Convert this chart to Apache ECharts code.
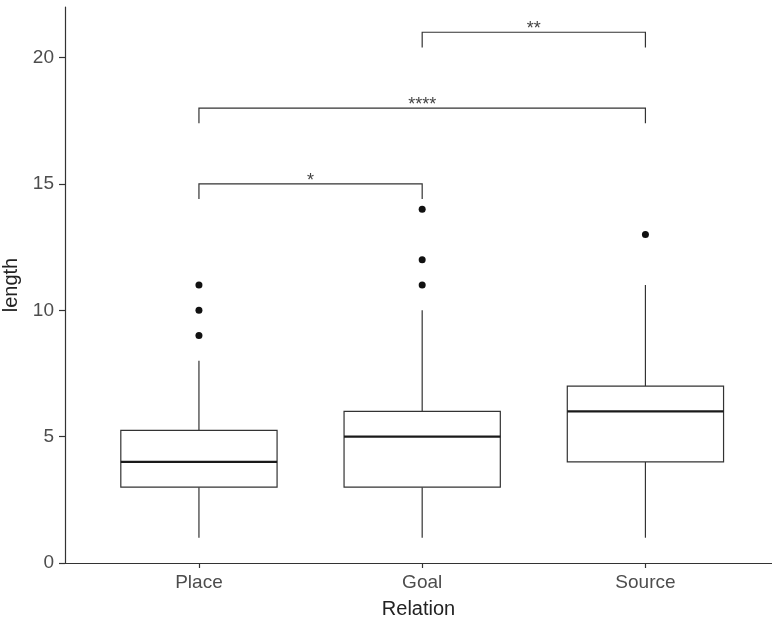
<!DOCTYPE html>
<html>
<head>
<meta charset="utf-8">
<script src="https://cdn.jsdelivr.net/npm/echarts@6/dist/echarts.min.js"></script>
<style>
  html, body { margin: 0; padding: 0; background: #fff; }
  #chart { width: 772px; height: 619px; }
</style>
</head>
<body>
<div id="chart"></div>
<script>
// Relation groups along the x axis (positions 1, 2, 3)
const categories = ['Place', 'Goal', 'Source'];

// Box statistics per group: [lower whisker, Q1, median, Q3, upper whisker]
const boxStats = [
  [1, 3, 4, 5.25, 8],
  [1, 3, 5, 6, 10],
  [1, 4, 6, 7, 11]
];

// Outlying observations per group
const outliers = [
  [9, 10, 11],
  [11, 12, 14],
  [13]
];

// Pairwise comparisons: [group a, group b, bracket height, significance]
const comparisons = [
  [1, 2, 15, '*'],
  [1, 3, 18, '****'],
  [2, 3, 21, '**']
];

const yTicks = [0, 5, 10, 15, 20];

const FONT = '"Liberation Sans", Arial, sans-serif';
const LINE = '#333333';

const boxData = boxStats.map((s, i) => [i + 1].concat(s));
const outlierData = [];
outliers.forEach((arr, i) => arr.forEach(v => outlierData.push([i + 1, v])));
const bracketData = comparisons.map(c => [c[0], c[1], c[2], c[3]]);

const chart = echarts.init(document.getElementById('chart'), null, { renderer: 'canvas' });

chart.setOption({
  animation: false,
  backgroundColor: '#ffffff',
  grid: { left: 65, right: 0, top: 7, bottom: 56, containLabel: false, outerBoundsMode: 'none' },
  xAxis: {
    type: 'value',
    min: 0.4,
    max: 3.567,
    name: 'Relation',
    nameLocation: 'middle',
    nameGap: 36,
    nameTextStyle: { fontFamily: FONT, fontSize: 20, color: '#222' },
    axisLine: { show: true, lineStyle: { color: LINE, width: 1.2 } },
    axisTick: { show: true, length: 5, customValues: [1, 2, 3], lineStyle: { color: LINE, width: 1.2 } },
    axisLabel: {
      customValues: [1, 2, 3],
      formatter: v => categories[Math.round(v) - 1] || '',
      fontFamily: FONT, fontSize: 19, color: '#4d4d4d', margin: 10
    },
    splitLine: { show: false }
  },
  yAxis: {
    type: 'value',
    min: 0,
    max: 22,
    name: 'length',
    nameLocation: 'middle',
    nameRotate: 90,
    nameGap: 35,
    nameTextStyle: { fontFamily: FONT, fontSize: 20, color: '#222' },
    axisLine: { show: true, lineStyle: { color: LINE, width: 1.2 } },
    axisTick: { show: true, length: 6, customValues: yTicks, lineStyle: { color: LINE, width: 1.2 } },
    axisLabel: {
      customValues: yTicks,
      fontFamily: FONT, fontSize: 19, color: '#4d4d4d', margin: 11
    },
    splitLine: { show: false }
  },
  series: [
    {
      type: 'custom',
      name: 'boxes',
      data: boxData,
      encode: { x: 0, y: [1, 2, 3, 4, 5] },
      renderItem: function (params, api) {
        const x = api.value(0);
        const lo = api.value(1), q1 = api.value(2), med = api.value(3), q3 = api.value(4), hi = api.value(5);
        const hw = 0.35;
        const pLeftTop = api.coord([x - hw, q3]);
        const pRightBot = api.coord([x + hw, q1]);
        const pMedL = api.coord([x - hw, med]);
        const pMedR = api.coord([x + hw, med]);
        const pHi = api.coord([x, hi]);
        const pQ3 = api.coord([x, q3]);
        const pQ1 = api.coord([x, q1]);
        const pLo = api.coord([x, lo]);
        const ls = { stroke: LINE, lineWidth: 1.2, fill: null };
        return {
          type: 'group',
          children: [
            { type: 'line', shape: { x1: pHi[0], y1: pHi[1], x2: pQ3[0], y2: pQ3[1] }, style: ls },
            { type: 'line', shape: { x1: pQ1[0], y1: pQ1[1], x2: pLo[0], y2: pLo[1] }, style: ls },
            {
              type: 'rect',
              shape: {
                x: pLeftTop[0], y: pLeftTop[1],
                width: pRightBot[0] - pLeftTop[0], height: pRightBot[1] - pLeftTop[1]
              },
              style: { stroke: LINE, lineWidth: 1.2, fill: '#ffffff' }
            },
            { type: 'line', shape: { x1: pMedL[0], y1: pMedL[1], x2: pMedR[0], y2: pMedR[1] }, style: { stroke: '#1a1a1a', lineWidth: 2.4 } }
          ]
        };
      },
      z: 2
    },
    {
      type: 'scatter',
      name: 'outliers',
      data: outlierData,
      symbol: 'circle',
      symbolSize: 7,
      itemStyle: { color: '#111111', opacity: 1 },
      z: 3
    },
    {
      type: 'custom',
      name: 'comparisons',
      data: bracketData,
      encode: { x: [0, 1], y: 2 },
      renderItem: function (params, api) {
        const a = api.value(0), b = api.value(1), h = api.value(2);
        const label = bracketData[params.dataIndex][3];
        const tip = 0.6;
        const pA = api.coord([a, h]);
        const pB = api.coord([b, h]);
        const pAt = api.coord([a, h - tip]);
        const pBt = api.coord([b, h - tip]);
        const ls = { stroke: LINE, lineWidth: 1.2, fill: null };
        return {
          type: 'group',
          children: [
            { type: 'polyline', shape: { points: [pAt, pA, pB, pBt] }, style: ls },
            {
              type: 'text',
              x: (pA[0] + pB[0]) / 2,
              y: pA[1] + 6,
              style: {
                text: label,
                fontFamily: FONT,
                fontSize: 18,
                fill: '#444444',
                align: 'center',
                verticalAlign: 'bottom'
              }
            }
          ]
        };
      },
      z: 4
    }
  ]
});
</script>
</body>
</html>
